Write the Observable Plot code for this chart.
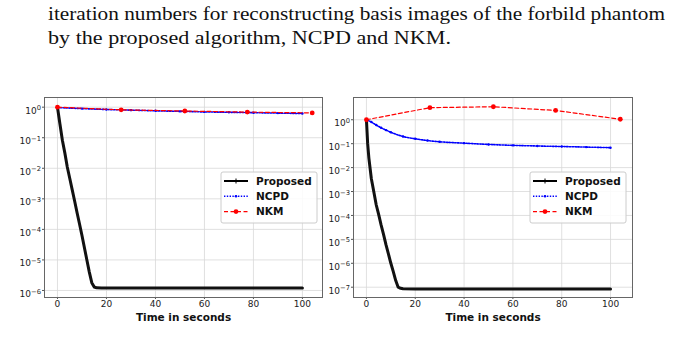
<!DOCTYPE html>
<html><head><meta charset="utf-8">
<script src="https://cdn.jsdelivr.net/npm/d3@7"></script>
<script src="https://cdn.jsdelivr.net/npm/@observablehq/plot@0.6"></script>
<style>
body{margin:0;background:#fff;width:678px;height:354px;position:relative;overflow:hidden}
.abs{position:absolute}
.abs svg{overflow:visible}
</style></head><body>
<div id="caption" class="abs" style="left:0;top:0"></div>
<div id="left" class="abs" style="left:0;top:90px"></div>
<div id="right" class="abs" style="left:330px;top:90px"></div>
<div id="legends" class="abs" style="left:0;top:0"></div>
<script>
// ---- text ----
const captionLines = [
  "iteration numbers for reconstructing basis images of the forbild phantom",
  "by the proposed algorithm, NCPD and NKM."
];
const seriesNames = ["Proposed", "NCPD", "NKM"];
const xLabel = "Time in seconds";
const xTicks = [0, 20, 40, 60, 80, 100];
const yTicksLeft = [1e-6, 1e-5, 1e-4, 1e-3, 1e-2, 1e-1, 1];
const yTicksRight = [1e-7, 1e-6, 1e-5, 1e-4, 1e-3, 1e-2, 1e-1, 1];

// ---- left panel data ----
const leftProposedT = [0, 1, 2, 3, 4, 5, 6, 7, 8, 9, 10, 11, 12, 13, 14, 15, 16, 18, 20, 30, 40, 50, 60, 70, 80, 90, 100];
const leftProposedV = [1, 0.28, 0.083, 0.032, 0.011, 4.7e-3, 2e-3, 8.5e-4, 3.5e-4, 1.5e-4, 6.3e-5, 2.5e-5, 1e-5, 4e-6, 1.8e-6, 1.3e-6, 1.22e-6, 1.2e-6, 1.2e-6, 1.2e-6, 1.2e-6, 1.2e-6, 1.2e-6, 1.2e-6, 1.2e-6, 1.2e-6, 1.2e-6];
const leftNcpdT = [0, 10, 20, 30, 40, 50, 60, 70, 80, 90, 100];
const leftNcpdV = [0.97, 0.9, 0.84, 0.8, 0.76, 0.73, 0.7, 0.68, 0.66, 0.64, 0.62];
const leftNkmT = [0, 26, 52, 77.5, 104];
const leftNkmV = [1.0, 0.82, 0.75, 0.69, 0.65];

// ---- right panel data ----
const rightProposedT = [0, 0.5, 1, 2, 3, 4, 5, 6, 7, 8, 9, 10, 11, 12, 13, 14, 15, 20, 30, 40, 50, 60, 70, 80, 90, 100];
const rightProposedV = [1, 0.1, 0.025, 3.5e-3, 1e-3, 2.8e-4, 1.1e-4, 4e-5, 1.6e-5, 6e-6, 2.5e-6, 1e-6, 4.5e-7, 1.9e-7, 1.0e-7, 9e-8, 8.6e-8, 8.5e-8, 8.5e-8, 8.5e-8, 8.5e-8, 8.5e-8, 8.5e-8, 8.5e-8, 8.5e-8, 8.5e-8];
const rightNcpdT = [0, 2, 4, 6, 8, 10, 15, 20, 25, 30, 40, 50, 60, 70, 80, 90, 100];
const rightNcpdV = [1.0, 0.8, 0.6, 0.46, 0.37, 0.3, 0.2, 0.16, 0.135, 0.12, 0.105, 0.093, 0.085, 0.08, 0.076, 0.072, 0.068];
const rightNkmT = [0, 26, 52, 77.5, 104];
const rightNkmV = [1.0, 3.2, 3.5, 2.45, 1.05];

const zip = (t, v) => t.map((x, i) => ({t: x, v: v[i]}));
const fmtY = d => "10^" + Math.round(Math.log10(d));

// caption
{
  const svg = d3.select("#caption").append("svg").attr("width", 678).attr("height", 60);
  const t = svg.append("g").attr("font-family", "'Liberation Serif', 'DejaVu Serif', serif").attr("font-size", 19).attr("fill", "#111");
  t.append("text").attr("x", 48).attr("y", 20).attr("textLength", 617).attr("lengthAdjust", "spacingAndGlyphs").text(captionLines[0]);
  t.append("text").attr("x", 48).attr("y", 44).attr("textLength", 403).attr("lengthAdjust", "spacingAndGlyphs").text(captionLines[1]);
}

function panel(el, opts) {
  const {width, marginLeft, marginRight, xDomain, yDomain, yTicks, prop, ncpd, nkm} = opts;
  const chart = Plot.plot({
    width, height: 240,
    marginLeft, marginRight, marginTop: 7, marginBottom: 33,
    style: {fontFamily: "'DejaVu Sans', sans-serif", fontSize: "9px", color: "#222", background: "transparent"},
    x: {domain: xDomain},
    y: {type: "log", domain: yDomain},
    marks: [
      Plot.gridX(xTicks, {stroke: "#d8d8d8", strokeOpacity: 1, strokeWidth: 0.8}),
      Plot.gridY(yTicks, {stroke: "#d8d8d8", strokeOpacity: 1, strokeWidth: 0.8}),
      Plot.axisX(xTicks, {tickSize: 2, tickPadding: 1, label: null, stroke: "#555"}),
      Plot.axisY(yTicks, {tickSize: 2, tickPadding: 1.5, label: null, tickFormat: fmtY, stroke: "#555"}),
      Plot.line(prop, {x: "t", y: "v", stroke: "#111", strokeWidth: 3}),
      Plot.line(ncpd, {x: "t", y: "v", stroke: "blue", strokeWidth: 1.6, strokeDasharray: "1.4,1.4", curve: "monotone-x"}),
      Plot.dot(ncpd, {x: "t", y: "v", r: 1.2, fill: "blue"}),
      Plot.line(nkm, {x: "t", y: "v", stroke: "red", strokeWidth: 1.2, strokeDasharray: "4,2.5"}),
      Plot.dot(nkm, {x: "t", y: "v", r: 2.4, fill: "red"}),
      Plot.frame({stroke: "#666", strokeWidth: 1}),
      Plot.text([xLabel], {frameAnchor: "bottom", dy: 23, lineAnchor: "bottom", fontWeight: "bold", fontSize: 10.5, fill: "#111"})
    ]
  });
  // render exponents as raised superscripts
  d3.select(chart).selectAll('g[aria-label="y-axis tick label"] text').each(function() {
    const m = this.textContent.match(/^10\^(-?\d+)$/);
    if (!m) return;
    const t = d3.select(this);
    t.text("10").attr("dy", "0.4em");
    t.append("tspan").attr("dy", "-0.5em").attr("font-size", "0.75em").text(m[1].replace("-", "\u2212"));
  });
  document.getElementById(el).appendChild(chart);
}

panel("left", {
  width: 330, marginLeft: 44, marginRight: 8,
  xDomain: [-5.3, 108.2], yDomain: [Math.pow(10, -6.23), Math.pow(10, 0.317)], yTicks: yTicksLeft,
  prop: zip(leftProposedT, leftProposedV), ncpd: zip(leftNcpdT, leftNcpdV), nkm: zip(leftNkmT, leftNkmV)
});
panel("right", {
  width: 348, marginLeft: 23, marginRight: 46,
  xDomain: [-5.3, 109], yDomain: [Math.pow(10, -7.43), Math.pow(10, 0.93)], yTicks: yTicksRight,
  prop: zip(rightProposedT, rightProposedV), ncpd: zip(rightNcpdT, rightNcpdV), nkm: zip(rightNkmT, rightNkmV)
});

// legends
{
  const svg = d3.select("#legends").append("svg").attr("width", 678).attr("height", 354);
  const styles = [
    {stroke: "black", dash: null, sw: 2, marker: "plus"},
    {stroke: "blue", dash: "1.4,1.4", sw: 1.4, marker: "dot"},
    {stroke: "red", dash: "4,2.5", sw: 1.2, marker: "circle"}
  ];
  for (const bx of [221, 530]) {
    const g = svg.append("g");
    g.append("rect").attr("x", bx).attr("y", 172).attr("width", 96).attr("height", 51).attr("rx", 2)
      .attr("fill", "white").attr("fill-opacity", 0.85).attr("stroke", "#ccc");
    seriesNames.forEach((name, i) => {
      const y = 181 + i * 15.3;
      const s = styles[i];
      g.append("line").attr("x1", bx + 3).attr("x2", bx + 27).attr("y1", y).attr("y2", y)
        .attr("stroke", s.stroke).attr("stroke-width", s.sw).attr("stroke-dasharray", s.dash);
      const cx = bx + 15;
      if (s.marker === "plus") {
        g.append("path").attr("d", `M${cx},${y - 2.5}V${y + 2.5}`).attr("stroke", "black").attr("stroke-width", 1);
      } else if (s.marker === "dot") {
        g.append("circle").attr("cx", cx).attr("cy", y).attr("r", 1.3).attr("fill", "blue");
      } else {
        g.append("circle").attr("cx", cx).attr("cy", y).attr("r", 2.4).attr("fill", "red");
      }
      g.append("text").attr("x", bx + 35).attr("y", y).attr("dy", "0.36em")
        .attr("font-family", "'DejaVu Sans', sans-serif").attr("font-weight", "bold").attr("font-size", 10.5)
        .attr("fill", "#111").text(name);
    });
  }
}
</script>
</body></html>
